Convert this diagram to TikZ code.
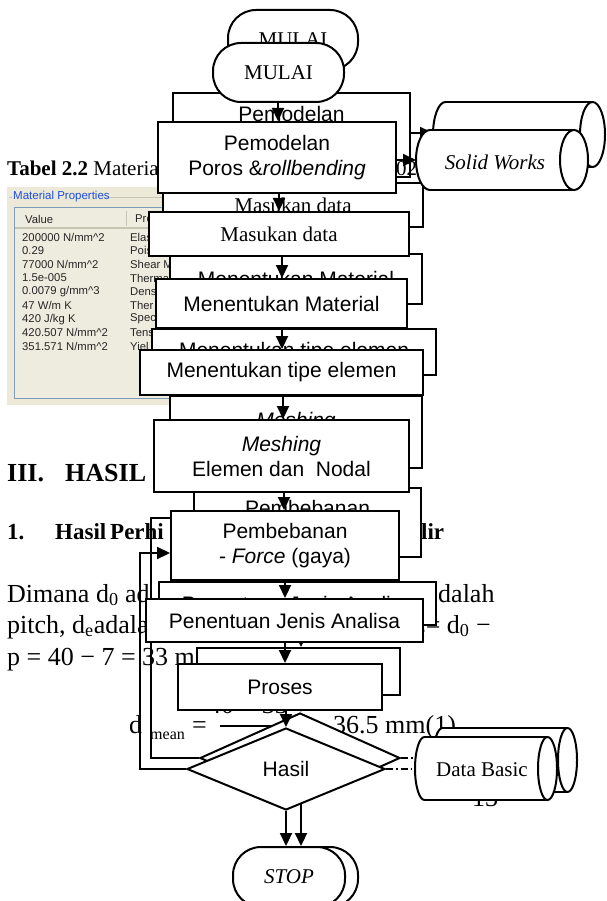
\documentclass[tikz,border=0pt]{standalone}
\usepackage{fontspec}
\setmainfont{Liberation Serif}
\newfontfamily\arialf{Liberation Sans}
\usetikzlibrary{arrows.meta,shapes.geometric,calc}
\definecolor{panelbg}{HTML}{ECE9D8}
\definecolor{listbg}{HTML}{EEEBDF}
\definecolor{listborder}{HTML}{7F9DB9}
\definecolor{titleblue}{HTML}{1C4FD8}
\definecolor{sepgray}{HTML}{C8C4B4}
\tikzset{
  shp/.style={draw, line width=2pt, fill=white},
  bx/.style={shp, rectangle, inner sep=0pt, align=center, font=\arialf\fontsize{21}{25}\selectfont},
  bxt/.style={bx, font=\fontsize{21}{25}\selectfont},
  term/.style={shp, rectangle, rounded corners=28pt, inner sep=0pt, font=\fontsize{21}{25}\selectfont},
  dia/.style={shp, diamond, inner sep=0pt, font=\arialf\fontsize{21}{25}\selectfont},
  arr/.style={line width=2.2pt, -{Triangle[length=13pt,width=12pt]}},
  ddot/.style={line width=1.5pt, dash pattern=on 7pt off 3pt on 1.5pt off 3pt},
  lbl/.style={inner sep=0pt, align=center, font=\arialf\fontsize{21}{25}\selectfont},
  lblt/.style={inner sep=0pt, align=center, font=\fontsize{21}{25}\selectfont},
  doc/.style={inner sep=0pt, anchor=base west, font=\fontsize{26}{30}\selectfont},
  tbl/.style={inner sep=0pt, anchor=west, font=\arialf\fontsize{11.3}{13}\selectfont, text=black!85},
}
% cylinder lying on its side: L T R B rx ry
\newcommand\cylshape[6]{%
  \draw[shp] ({#1+#5},{(#2+#4)/2}) ellipse [x radius=#5pt, y radius=#6pt];
  \fill[white] ({#1+#5},#2) rectangle ({#3-#5},#4);
  \draw[line width=2pt] ({#1+#5},#2) -- ({#3-#5},#2) ({#1+#5},#4) -- ({#3-#5},#4);
  \draw[shp] ({#3-#5},{(#2+#4)/2}) ellipse [x radius=#5pt, y radius=#6pt];
}
\begin{document}
\begin{tikzpicture}[x=1pt,y=-1pt]
\useasboundingbox (0,0) rectangle (606,901);
\fill[white] (0,0) rectangle (606,901);
\clip (0,0) rectangle (606,901);

% ---------------- table screenshot
\fill[panelbg] (7,187) rectangle (186,405);
\draw[sepgray, line width=0.8pt] (9,197) -- (12,197) (104,197) -- (186,197);
\node[tbl, text=titleblue, font=\arialf\fontsize{11.5}{13}\selectfont] (ttl) at (13,197) {Material Properties};
\draw[listborder, fill=listbg, line width=0.9pt] (14,207) rectangle (192,398);
\draw[sepgray, line width=1.5pt] (15,228) -- (191,228);
\draw[sepgray, line width=0.8pt] (126,211) -- (126,226);
\node[tbl] (hv) at (25,219) {Value};
\node[tbl] (hp) at (135,219) {Pro};
\node[tbl] (v1) at (22,237.0) {200000 N/mm\textasciicircum 2};
\node[tbl] (v2) at (22,250.7) {0.29};
\node[tbl] (v3) at (22,264.4) {77000 N/mm\textasciicircum 2};
\node[tbl] (v4) at (22,278.1) {1.5e-005};
\node[tbl] (v5) at (22,291.8) {0.0079 g/mm\textasciicircum 3};
\node[tbl] (v6) at (22,305.5) {47 W/m K};
\node[tbl] (v7) at (22,319.2) {420 J/kg K};
\node[tbl] (v8) at (22,332.9) {420.507 N/mm\textasciicircum 2};
\node[tbl] (v9) at (22,346.6) {351.571 N/mm\textasciicircum 2};
\node[tbl] (p1) at (130,237.0) {Elas};
\node[tbl] (p2) at (130,250.7) {Pois};
\node[tbl] (p3) at (130,264.4) {Shear M};
\node[tbl] (p4) at (130,278.1) {Thermal};
\node[tbl] (p5) at (130,291.8) {Dens};
\node[tbl] (p6) at (130,305.5) {Ther};
\node[tbl] (p7) at (130,319.2) {Spec};
\node[tbl] (p8) at (130,332.9) {Tens};
\node[tbl] (p9) at (130,346.6) {Yiel};

% ---------------- document text
\node[doc, font=\fontsize{21}{25}\selectfont] (tab) at (7,176) {\textbf{Tabel 2.2} Material};
\node[doc, font=\bfseries\fontsize{26}{30}\selectfont] (h3a) at (7,481) {III.};
\node[doc, font=\bfseries\fontsize{26}{30}\selectfont] (h3b) at (65,481) {HASIL};
\node[doc, font=\bfseries\fontsize{23}{26}\selectfont] (h1a) at (7,539) {1.};
\node[doc, font=\bfseries\fontsize{23}{26}\selectfont] (h1b) at (55,539) {Hasil};
\node[doc, font=\bfseries\fontsize{23}{26}\selectfont] (h1c) at (110,539) {Perhi};
\node[doc, font=\bfseries\fontsize{23}{26}\selectfont] (h1d) at (421,539) {lir};
\node[doc] (l1a) at (7,602) {Dimana d\textsubscript{0} ad};
\node[doc] (l1b) at (438,602) {dalah};
\node[doc] (l2a) at (7,633) {pitch, d\textsubscript{e}adala};
\node[doc] (l2b) at (417,633) {\textsubscript{e}= d\textsubscript{0} −};
\node[doc] (l3a) at (7,665) {p = 40 − 7 = 33 m};
\node[doc] (dm1) at (129,733) {d};
\node[doc, font=\fontsize{16}{18}\selectfont] (dm2) at (150,739) {mean};
\node[doc] (dm3) at (192,733) {=};
\node[inner sep=0pt, anchor=base, font=\fontsize{26}{30}\selectfont] (dmn) at (248,713) {40 + 33};
\draw[line width=1.3pt] (220,726) -- (277,726);
\node[doc] (dm4) at (300,733) {=};
\node[doc] (dm5) at (333,733) {36.5 mm(1)};
\node[doc] (pg) at (472,806) {13};

% ---------------- back (ghost) flowchart
\node[term, minimum width=130pt, minimum height=60pt] (bMulai) at (293,40) {MULAI};
\node[bx, minimum width=237pt, minimum height=84pt] (bPem) at (291.5,135) {};
\node[lbl] (bPemT) at (291.5,128.5) {Pemodelan\\Poros \&\textit{rollbending}};
\node[bxt, minimum width=260pt, minimum height=44pt] (bMas) at (293,205) {Masukan data};
\node[bx, minimum width=252pt, minimum height=50pt] (bMat) at (296,279) {Menentukan Material};
\node[bx, minimum width=284pt, minimum height=46pt] (bTip) at (294,352) {Menentukan tipe elemen};
\node[bx, minimum width=252pt, minimum height=72pt] (bMesh) at (296,432) {\textit{Meshing}\\Elemen dan~ Nodal};
\node[bx, minimum width=227pt, minimum height=69pt] (bPemb) at (307.5,522.5) {Pembebanan\\- \textit{Force} (gaya)};
\node[bx, minimum width=277pt, minimum height=43pt] (bPen) at (297.5,603.5) {Penentuan Jenis Analisa};
\node[bx, minimum width=203pt, minimum height=47pt] (bPro) at (298.5,671.5) {Proses};
\node[dia, minimum width=200pt, minimum height=90pt] (bHas) at (300,758) {Hasil};
\node[term, minimum width=112pt, minimum height=60pt] (bStop) at (302,877) {\textit{STOP}};
\cylshape{433}{102}{605}{167}{12.5}{32.5}
\node[lblt, font=\itshape\fontsize{21}{25}\selectfont] (bSW) at (513,137) {Solid Works};
\cylshape{433}{728}{577}{792}{9.5}{32}
\node[lblt] (bDB) at (497,760) {Data Basic};

\coordinate (xb1) at (293,0);
\coordinate (xb2) at (295,0);
\coordinate (xb3) at (298,0);
\coordinate (xb4) at (300,0);
\coordinate (xb5) at (301,0);
\draw[arr] (bMulai.south -| xb1) -- (bPem.north -| xb1);
\draw[arr] (bPem.south -| xb1) -- (bMas.north -| xb1);
\draw[arr] (bMas.south -| xb2) -- (bMat.north -| xb2);
\draw[arr] (bMat.south -| xb2) -- (bTip.north -| xb2);
\draw[arr] (bTip.south -| xb2) -- (bMesh.north -| xb2);
\draw[arr] (bMesh.south -| xb3) -- (bPemb.north -| xb3);
\draw[arr] (bPemb.south -| xb4) -- (bPen.north -| xb4);
\draw[arr] (bPen.south -| xb5) -- (bPro.north -| xb5);
\draw[arr] (bPro.south -| xb5) -- (bHas.north -| xb5);
\draw[arr] (bHas.south -| xb5) -- (bStop.north -| xb5);
\coordinate (bl) at (151,518);
\draw[arr] (bHas.west) -| (bl) -- (bl -| bPemb.west);
\coordinate (bswW) at (433,133);
\draw[arr] (bPem.east |- bswW) -- (bswW);
\coordinate (bdbW) at (433,758);
\draw[ddot] (bHas.east) -- (bdbW);

\node[doc, font=\fontsize{21}{25}\selectfont] (t02) at (396,176) {02};

% ---------------- front flowchart
\node[term, minimum width=131pt, minimum height=59pt] (fMulai) at (278.5,72.5) {MULAI};
\node[bx, minimum width=238pt, minimum height=71pt] (fPem) at (277,157.5) {Pemodelan\\Poros \&\textit{rollbending}};
\node[bxt, minimum width=260pt, minimum height=44pt] (fMas) at (279,234) {Masukan data};
\node[bx, minimum width=251pt, minimum height=49pt] (fMat) at (281.5,303.5) {Menentukan Material};
\node[bx, minimum width=283pt, minimum height=45pt] (fTip) at (281.5,372.5) {Menentukan tipe elemen};
\node[bx, minimum width=255pt, minimum height=72pt] (fMesh) at (281.5,456) {\textit{Meshing}\\Elemen dan~ Nodal};
\node[bx, minimum width=228pt, minimum height=69pt] (fPemb) at (285,545.5) {Pembebanan\\- \textit{Force} (gaya)};
\node[bx, minimum width=277pt, minimum height=43pt] (fPen) at (284.5,620.5) {Penentuan Jenis Analisa};
\node[bx, minimum width=204pt, minimum height=46pt] (fPro) at (280,687) {Proses};
\node[dia, minimum width=198pt, minimum height=82pt] (fHas) at (286,769) {Hasil};
\node[term, minimum width=112pt, minimum height=60pt] (fStop) at (289,877) {\textit{STOP}};
\cylshape{416}{130}{588}{190}{14}{30}
\node[lblt, font=\itshape\fontsize{21}{25}\selectfont] (fSW) at (495,162) {Solid Works};
\cylshape{415}{737}{557}{800}{9.5}{31.5}
\node[lblt] (fDB) at (482,770) {Data Basic};

\coordinate (xf1) at (278,0);
\coordinate (xf2) at (279,0);
\coordinate (xf3) at (282,0);
\coordinate (xf4) at (283,0);
\coordinate (xf5) at (284,0);
\coordinate (xf6) at (285,0);
\draw[arr] (fMulai.south -| xf1) -- (fPem.north -| xf1);
\draw[arr] (fPem.south -| xf2) -- (fMas.north -| xf2);
\draw[arr] (fMas.south -| xf3) -- (fMat.north -| xf3);
\draw[arr] (fMat.south -| xf3) -- (fTip.north -| xf3);
\draw[arr] (fTip.south -| xf4) -- (fMesh.north -| xf4);
\draw[arr] (fMesh.south -| xf5) -- (fPemb.north -| xf5);
\draw[arr] (fPemb.south -| xf6) -- (fPen.north -| xf6);
\draw[arr] (fPen.south -| xf6) -- (fPro.north -| xf6);
\draw[arr] (fPro.south -| fHas.north) -- (fHas.north);
\draw[arr] (fHas.south) -- (fStop.north -| fHas.south);
\coordinate (fl) at (140,553);
\draw[arr] (fHas.west) -| (fl) -- (fl -| fPemb.west);
\coordinate (fswW) at (416,160);
\draw[arr] (fPem.east |- fswW) -- (fswW);
\coordinate (fdbW) at (415,769);
\draw[ddot] (fHas.east) -- (fdbW);
\end{tikzpicture}
\end{document}
